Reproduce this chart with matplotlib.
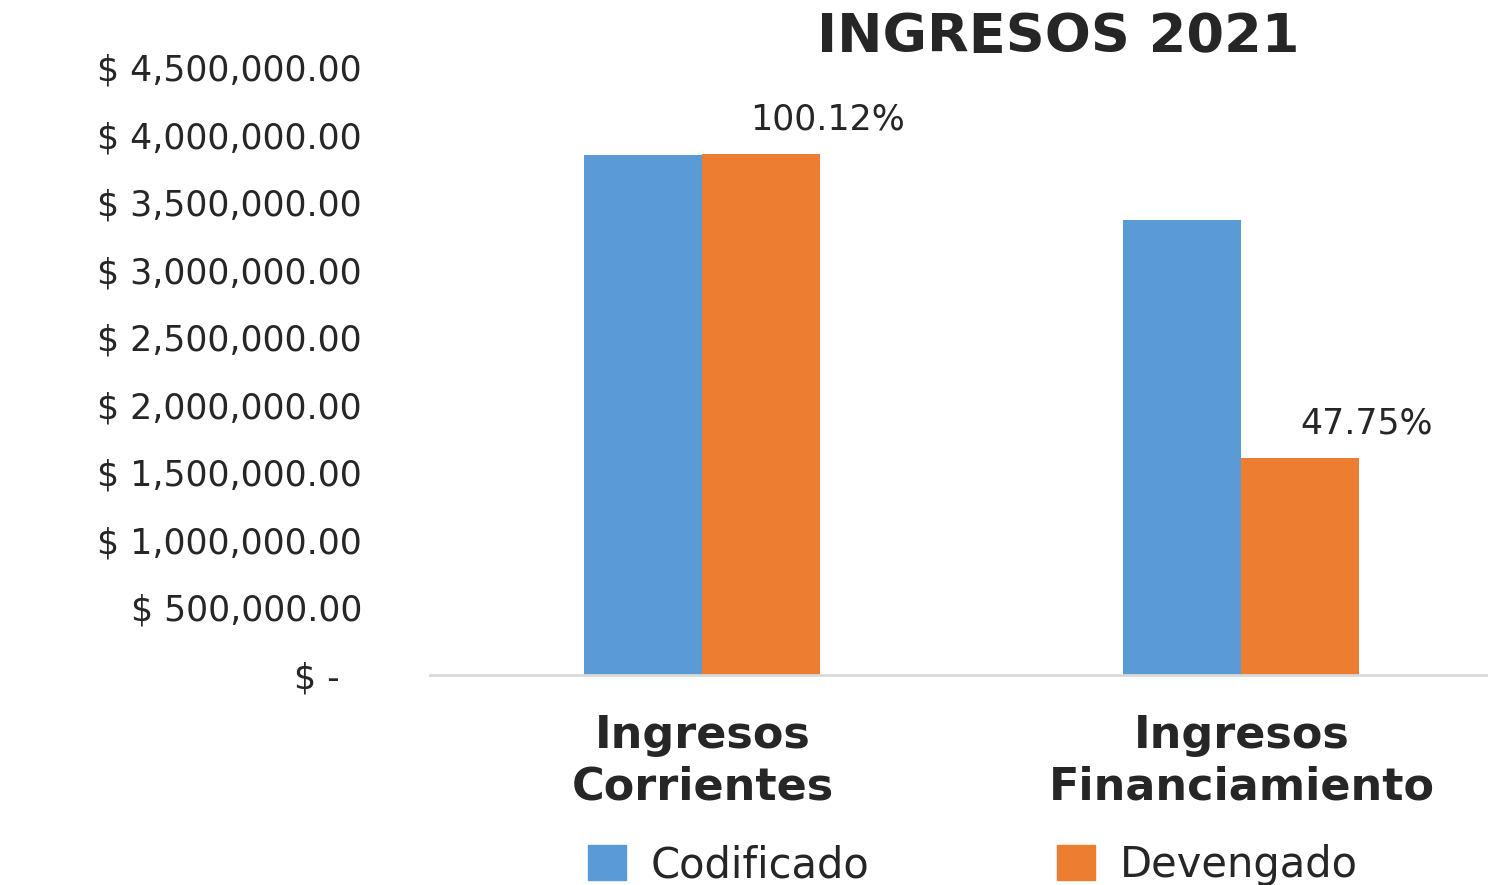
import matplotlib
matplotlib.use("Agg")
import matplotlib.pyplot as plt
from matplotlib.ticker import FuncFormatter
from matplotlib.patches import Patch

categories = ["Ingresos\nCorrientes", "Ingresos\nFinanciamiento"]
codificado = [3850000, 3365000]
devengado = [3855000, 1607000]
pct_labels = ["100.12%", "47.75%"]
yticks = [0, 500000, 1000000, 1500000, 2000000, 2500000, 3000000, 3500000, 4000000, 4500000]

BLUE = "#5B9BD5"
ORANGE = "#ED7D31"
TXT = "#262626"

fig = plt.figure(figsize=(14.88, 8.85), dpi=100)
ax = fig.add_axes([430/1488, 1-675/885, 1058/1488, (675-67)/885])

x = list(range(len(categories)))
w = 0.219
ax.bar([i - 0.111 for i in x], codificado, width=w, color=BLUE, label="Codificado")
ax.bar([i + 0.108 for i in x], devengado, width=w, color=ORANGE, label="Devengado")

for i, (v, lab) in enumerate(zip(devengado, pct_labels)):
    ax.annotate(lab, xy=(i + 0.108, v), xytext=(48, 25), textcoords="offset points",
                ha="center", va="center", fontsize=25, color=TXT)

ax.set_xlim(-0.5065, 1.456)
ax.set_ylim(0, 4500000)
ax.set_yticks(yticks)

def fmt(v, pos):
    if v == 0:
        return "$ -  "
    return "$ {:,.2f}".format(v)

ax.yaxis.set_major_formatter(FuncFormatter(fmt))
ax.set_xticks(x)
ax.set_xticklabels(categories, fontsize=32, fontweight="bold", color=TXT, linespacing=1.25)
ax.tick_params(axis="y", length=0, pad=49, labelsize=25, labelcolor=TXT)
ax.tick_params(axis="x", length=0, pad=28)

for s in ["top", "right", "left"]:
    ax.spines[s].set_visible(False)
ax.spines["bottom"].set_color("#D9D9D9")
ax.spines["bottom"].set_linewidth(2)

fig.text(1058/1488, 1-37/885, "INGRESOS 2021", ha="center", va="center",
         fontsize=39, fontweight="bold", color=TXT)

for color, lab, xpos in [(BLUE, "Codificado", 588), (ORANGE, "Devengado", 1057)]:
    leg = fig.legend(handles=[Patch(color=color, label=lab)], loc="center left",
                     bbox_to_anchor=(xpos/1488, 1-865/885), frameon=False, fontsize=30,
                     handlelength=0.9, handleheight=0.9, handletextpad=0.6,
                     borderpad=0, borderaxespad=0, labelcolor=TXT)

fig.savefig("out.png", dpi=100)
